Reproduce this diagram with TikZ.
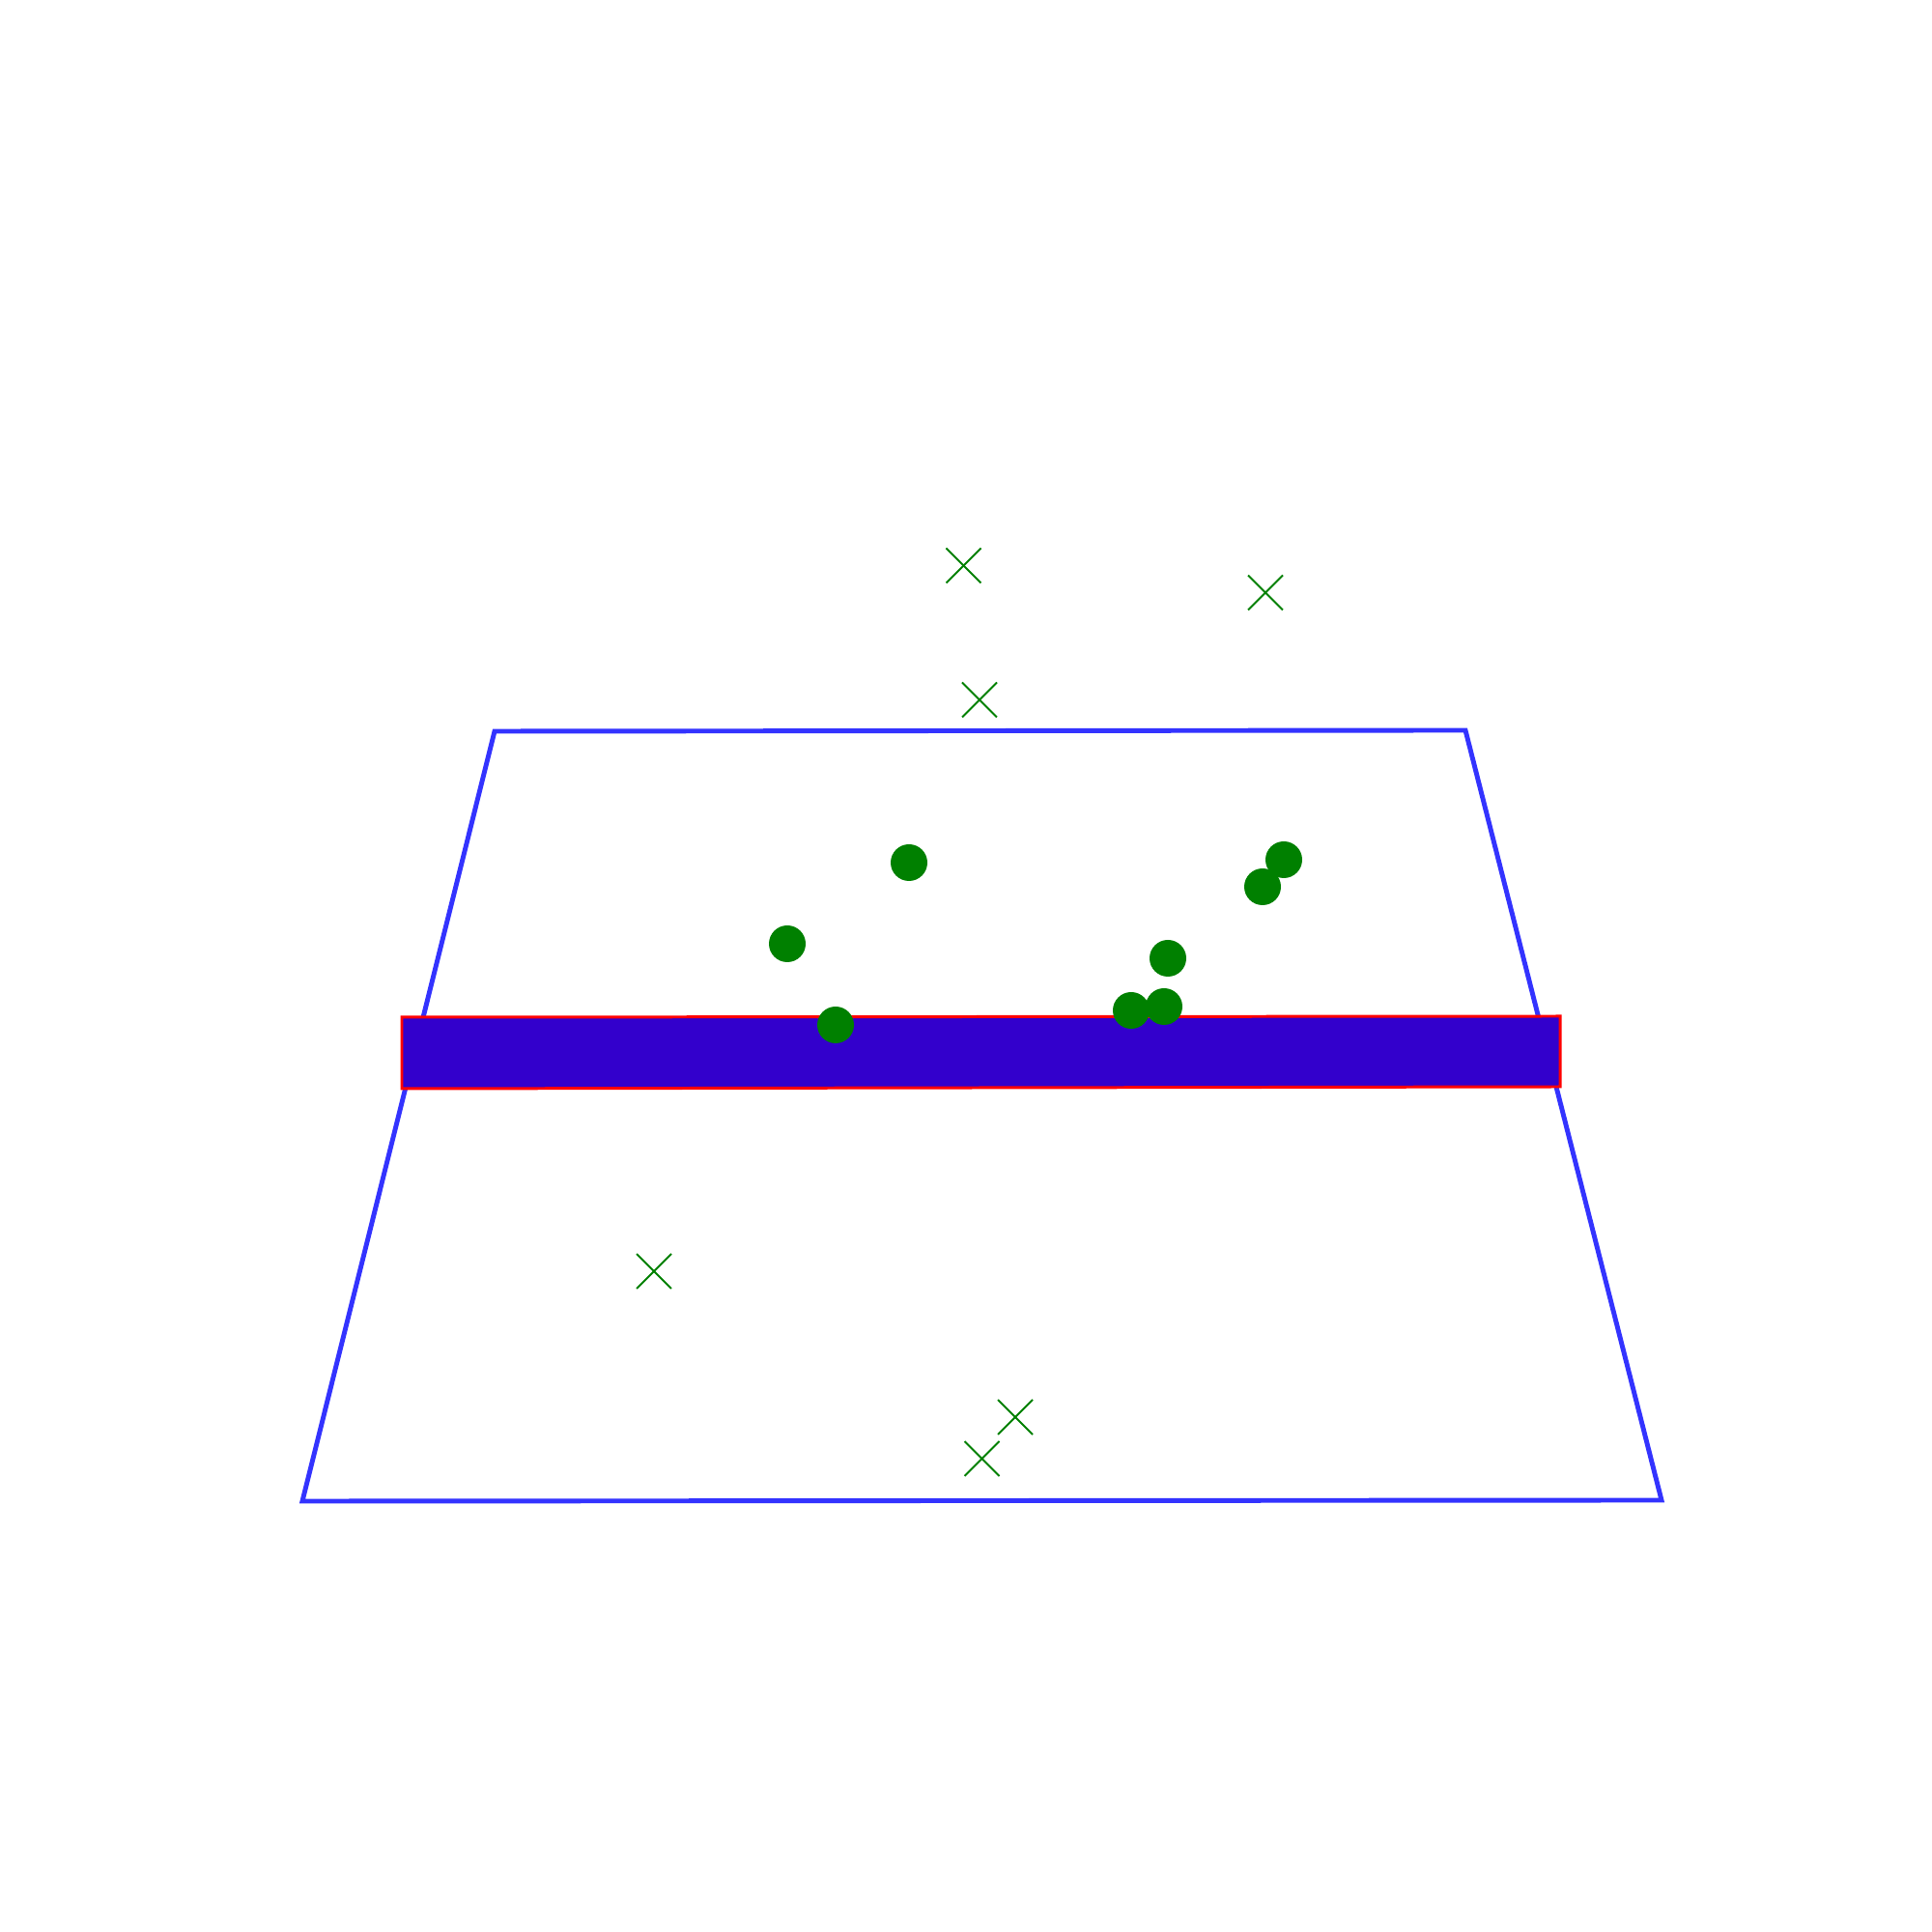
\documentclass[tikz,border=0pt]{standalone}
\usepackage{tikz}
\definecolor{edgeblue}{RGB}{51,51,255}
\definecolor{stripfill}{RGB}{51,0,204}
\definecolor{ptgreen}{RGB}{0,128,0}
\tikzset{
	trap/.style={edgeblue, line width=1.4pt, line join=miter},
	strip/.style={draw=red, fill=stripfill, line width=0.85pt},
	cross/.style={ptgreen, line width=0.55pt},
	dot/.style={fill=ptgreen}
}
\begin{document}
\begin{tikzpicture}
		\useasboundingbox (0, 0) rectangle (20, 20);
		\draw[trap]
			(5.12, 12.43) -- (15.17, 12.44) -- (17.20, 4.47) -- (3.13, 4.46) -- cycle;
		\draw[strip]
			(4.16, 9.47) -- (16.15, 9.48) -- (16.15, 8.75) -- (4.16, 8.73) -- cycle;
		\foreach \x/\y in {9.975/14.145, 13.10/13.865, 10.14/12.755,
				6.77/6.84, 10.51/5.33, 10.165/4.90} {
			\draw[cross] (\x-0.18, \y-0.18) -- (\x+0.18, \y+0.18);
			\draw[cross] (\x-0.18, \y+0.18) -- (\x+0.18, \y-0.18);
		}
		\foreach \x/\y in {9.41/11.07, 8.15/10.23, 8.65/9.39, 13.29/11.10,
				13.07/10.82, 12.09/10.08, 11.71/9.54, 12.05/9.58} {
			\fill[dot] (\x, \y) circle (0.19);
		}
	\end{tikzpicture}
\end{document}
